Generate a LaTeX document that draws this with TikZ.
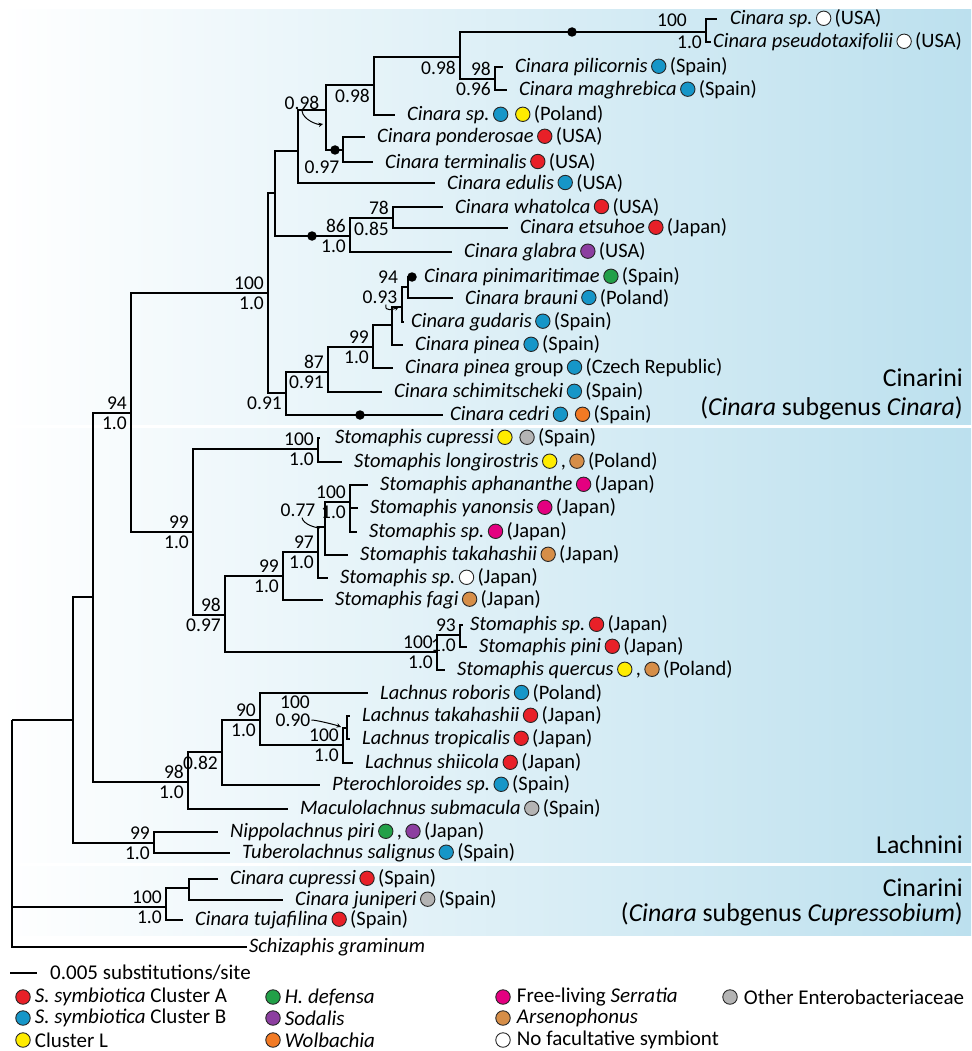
\documentclass[tikz,border=0pt]{standalone}
\usepackage{fontspec}
\setmainfont{Carlito}
\usetikzlibrary{positioning}

\definecolor{bgblue}{RGB}{188,224,238}
\definecolor{clA}{RGB}{232,32,40}
\definecolor{clB}{RGB}{22,150,200}
\definecolor{clL}{RGB}{255,236,0}
\definecolor{hdef}{RGB}{34,160,72}
\definecolor{sodal}{RGB}{140,62,160}
\definecolor{wolb}{RGB}{242,122,36}
\definecolor{serr}{RGB}{228,0,128}
\definecolor{arsen}{RGB}{214,142,72}
\definecolor{enter}{RGB}{180,180,180}

% coloured symbiont mark inside a tip label
\newcommand{\smark}[1]{\,\tikz[baseline=-0.32em]\draw[line width=0.9pt, draw=black!85, fill=#1] (0,0) circle (7.2pt);\,}

\begin{document}
\begin{tikzpicture}[x=1pt, y=-1pt,
    branch/.style={line width=2.3pt},
    tip/.style={anchor=west, inner sep=1pt, font=\fontsize{20.5}{22}\selectfont},
    sup/.style={inner sep=1pt, font=\fontsize{19.5}{21}\selectfont},
    up/.style={sup, anchor=south east, xshift=-3pt, yshift=2.5pt},
    dn/.style={sup, anchor=north east, xshift=-3pt, yshift=-2.5pt},
    clade/.style={anchor=east, inner sep=0pt, font=\fontsize{25.8}{28}\selectfont},
    leg/.style={anchor=west, inner sep=1pt, font=\fontsize{21}{23}\selectfont},
    legdot/.style={circle, draw=black!85, line width=0.9pt, minimum size=14.5pt, inner sep=0pt},
    nodedot/.style={circle, fill=black, inner sep=0pt, minimum size=9.5pt},
    hook/.style={-stealth, line width=1pt},
    node distance=11pt]

\useasboundingbox (0,0) rectangle (971,1051);

% background bands
\shade[left color=white, right color=bgblue] (0,10) rectangle (971,424);
\shade[left color=white, right color=bgblue] (0,428) rectangle (971,862);
\shade[left color=white, right color=bgblue] (0,866) rectangle (971,935);

% internal nodes
\coordinate (root) at (12,720);
\coordinate (n73) at (73,720);
\coordinate (n93) at (93,597);
\coordinate (n131) at (131,413);
\coordinate (nCin) at (268,293);
\coordinate (n275) at (275,193);
\coordinate (n298) at (298,151);
\coordinate (n326) at (326,110);
\coordinate (n374) at (374,85);
\coordinate (n460) at (460,57);
\coordinate (n706) at (706,32);
\coordinate (n495) at (495,79);
\coordinate (n343) at (343,150);
\coordinate (n350) at (350,236);
\coordinate (n393) at (393,218);
\coordinate (n286) at (286,393);
\coordinate (n328) at (328,372);
\coordinate (n373) at (373,347);
\coordinate (n392) at (392,325);
\coordinate (n402) at (402,307);
\coordinate (n408) at (408,287);
\coordinate (nSto) at (193,532);
\coordinate (n318a) at (318,449);
\coordinate (n225) at (225,615);
\coordinate (n283) at (283,576);
\coordinate (n318b) at (318,552);
\coordinate (n325) at (325,527);
\coordinate (n350s) at (350,502);
\coordinate (n437) at (437,652);
\coordinate (n460s) at (460,635);
\coordinate (n188) at (188,782);
\coordinate (n222) at (222,752);
\coordinate (n260) at (260,720);
\coordinate (n343l) at (343,745);
\coordinate (n347) at (347,728);
\coordinate (nLach2) at (154,843);
\coordinate (n166) at (166,907);
\coordinate (n189) at (189,888);

% tip ends
\coordinate (t01) at (717,19);
\coordinate (t02) at (711,42);
\coordinate (t03) at (503,67);
\coordinate (t04) at (507,90);
\coordinate (t05) at (395,115);
\coordinate (t06) at (365,137);
\coordinate (t07) at (373,162);
\coordinate (t08) at (435,183);
\coordinate (t09) at (443,207);
\coordinate (t10) at (508,228);
\coordinate (t11) at (452,252);
\coordinate (t12) at (412,277);
\coordinate (t13) at (453,298);
\coordinate (t14) at (404,322);
\coordinate (t15) at (403,345);
\coordinate (t16) at (393,368);
\coordinate (t17) at (382,392);
\coordinate (t18) at (443,415);
\coordinate (t19) at (320,438);
\coordinate (t20) at (342,462);
\coordinate (t21) at (368,485);
\coordinate (t22) at (358,508);
\coordinate (t23) at (357,532);
\coordinate (t24) at (348,555);
\coordinate (t25) at (328,578);
\coordinate (t26) at (323,600);
\coordinate (t27) at (463,625);
\coordinate (t28) at (467,647);
\coordinate (t29) at (445,670);
\coordinate (t30) at (368,693);
\coordinate (t31) at (350,716);
\coordinate (t32) at (350,739);
\coordinate (t33) at (353,763);
\coordinate (t34) at (320,785);
\coordinate (t35) at (288,809);
\coordinate (t36) at (218,832);
\coordinate (t37) at (230,853);
\coordinate (t38) at (218,879);
\coordinate (t39) at (283,900);
\coordinate (t40) at (183,920);
\coordinate (t41) at (247,947);

% branches
\draw[branch] (root) |- (n73);
\draw[branch] (root) |- (n166);
\draw[branch] (root) |- (t41);
\draw[branch] (n73) |- (n93);
\draw[branch] (n73) |- (nLach2);
\draw[branch] (n93) |- (n131);
\draw[branch] (n93) |- (n188);
\draw[branch] (n131) |- (nCin);
\draw[branch] (n131) |- (nSto);
\draw[branch] (nCin) |- (n275);
\draw[branch] (nCin) |- (n286);
\draw[branch] (n275) |- (n298);
\draw[branch] (n275) |- (n350);
\draw[branch] (n298) |- (n326);
\draw[branch] (n298) |- (t08);
\draw[branch] (n326) |- (n374);
\draw[branch] (n326) |- (n343);
\draw[branch] (n374) |- (n460);
\draw[branch] (n374) |- (t05);
\draw[branch] (n460) |- (n706);
\draw[branch] (n460) |- (n495);
\draw[branch] (n706) |- (t01);
\draw[branch] (n706) |- (t02);
\draw[branch] (n495) |- (t03);
\draw[branch] (n495) |- (t04);
\draw[branch] (n343) |- (t06);
\draw[branch] (n343) |- (t07);
\draw[branch] (n350) |- (n393);
\draw[branch] (n350) |- (t11);
\draw[branch] (n393) |- (t09);
\draw[branch] (n393) |- (t10);
\draw[branch] (n286) |- (n328);
\draw[branch] (n286) |- (t18);
\draw[branch] (n328) |- (n373);
\draw[branch] (n328) |- (t17);
\draw[branch] (n373) |- (n392);
\draw[branch] (n373) |- (t16);
\draw[branch] (n392) |- (n402);
\draw[branch] (n392) |- (t15);
\draw[branch] (n402) |- (n408);
\draw[branch] (n402) |- (t14);
\draw[branch] (n408) |- (t12);
\draw[branch] (n408) |- (t13);
\draw[branch] (nSto) |- (n318a);
\draw[branch] (nSto) |- (n225);
\draw[branch] (n318a) |- (t19);
\draw[branch] (n318a) |- (t20);
\draw[branch] (n225) |- (n283);
\draw[branch] (n225) |- (n437);
\draw[branch] (n283) |- (n318b);
\draw[branch] (n283) |- (t26);
\draw[branch] (n318b) |- (n325);
\draw[branch] (n318b) |- (t25);
\draw[branch] (n325) |- (n350s);
\draw[branch] (n325) |- (t24);
\draw[branch] (n350s) |- (t21);
\draw[branch] (n350s) |- (t22);
\draw[branch] (n350s) |- (t23);
\draw[branch] (n437) |- (n460s);
\draw[branch] (n437) |- (t29);
\draw[branch] (n460s) |- (t27);
\draw[branch] (n460s) |- (t28);
\draw[branch] (n188) |- (n222);
\draw[branch] (n188) |- (t35);
\draw[branch] (n222) |- (n260);
\draw[branch] (n222) |- (t34);
\draw[branch] (n260) |- (t30);
\draw[branch] (n260) |- (n343l);
\draw[branch] (n343l) |- (n347);
\draw[branch] (n343l) |- (t33);
\draw[branch] (n347) |- (t31);
\draw[branch] (n347) |- (t32);
\draw[branch] (nLach2) |- (t36);
\draw[branch] (nLach2) |- (t37);
\draw[branch] (n166) |- (n189);
\draw[branch] (n166) |- (t40);
\draw[branch] (n189) |- (t38);
\draw[branch] (n189) |- (t39);

% dots on branches
\node[nodedot] (d1) at (572,32) {};
\node[nodedot] (d2) at (335,150) {};
\node[nodedot] (d3) at (312,236) {};
\node[nodedot] (d4) at (t12) {};
\node[nodedot] (d5) at (360,415) {};

% tip labels
\node[tip, right=12pt of t01] (l01) {\textit{Cinara sp.}\smark{white}(USA)};
\node[tip, right=1pt of t02] (l02) {\textit{Cinara pseudotaxifolii}\smark{white}(USA)};
\node[tip, right=of t03] (l03) {\textit{Cinara pilicornis}\smark{clB}(Spain)};
\node[tip, right=of t04] (l04) {\textit{Cinara maghrebica}\smark{clB}(Spain)};
\node[tip, right=of t05] (l05) {\textit{Cinara sp.}\smark{clB}\smark{clL}(Poland)};
\node[tip, right=of t06] (l06) {\textit{Cinara ponderosae}\smark{clA}(USA)};
\node[tip, right=of t07] (l07) {\textit{Cinara terminalis}\smark{clA}(USA)};
\node[tip, right=of t08] (l08) {\textit{Cinara edulis}\smark{clB}(USA)};
\node[tip, right=of t09] (l09) {\textit{Cinara whatolca}\smark{clA}(USA)};
\node[tip, right=of t10] (l10) {\textit{Cinara etsuhoe}\smark{clA}(Japan)};
\node[tip, right=of t11] (l11) {\textit{Cinara glabra}\smark{sodal}(USA)};
\node[tip, right=of t12] (l12) {\textit{Cinara pinimaritimae}\smark{hdef}(Spain)};
\node[tip, right=of t13] (l13) {\textit{Cinara brauni}\smark{clB}(Poland)};
\node[tip, right=6pt of t14] (l14) {\textit{Cinara gudaris}\smark{clB}(Spain)};
\node[tip, right=of t15] (l15) {\textit{Cinara pinea}\smark{clB}(Spain)};
\node[tip, right=of t16] (l16) {\textit{Cinara pinea} group\smark{clB}(Czech Republic)};
\node[tip, right=of t17] (l17) {\textit{Cinara schimitscheki}\smark{clB}(Spain)};
\node[tip, right=6pt of t18] (l18) {\textit{Cinara cedri}\smark{clB}\smark{wolb}(Spain)};
\node[tip, right=14pt of t19] (l19) {\textit{Stomaphis cupressi}\smark{clL}\smark{enter}(Spain)};
\node[tip, right=of t20] (l20) {\textit{Stomaphis longirostris}\smark{clL},\smark{arsen}(Poland)};
\node[tip, right=of t21] (l21) {\textit{Stomaphis aphananthe}\smark{serr}(Japan)};
\node[tip, right=of t22] (l22) {\textit{Stomaphis yanonsis}\smark{serr}(Japan)};
\node[tip, right=of t23] (l23) {\textit{Stomaphis sp.}\smark{serr}(Japan)};
\node[tip, right=of t24] (l24) {\textit{Stomaphis takahashii}\smark{arsen}(Japan)};
\node[tip, right=of t25] (l25) {\textit{Stomaphis sp.}\smark{white}(Japan)};
\node[tip, right=of t26] (l26) {\textit{Stomaphis fagi}\smark{arsen}(Japan)};
\node[tip, right=6pt of t27] (l27) {\textit{Stomaphis sp.}\smark{clA}(Japan)};
\node[tip, right=of t28] (l28) {\textit{Stomaphis pini}\smark{clA}(Japan)};
\node[tip, right=of t29] (l29) {\textit{Stomaphis quercus}\smark{clL},\smark{arsen}(Poland)};
\node[tip, right=of t30] (l30) {\textit{Lachnus roboris}\smark{clB}(Poland)};
\node[tip, right=of t31] (l31) {\textit{Lachnus takahashii}\smark{clA}(Japan)};
\node[tip, right=of t32] (l32) {\textit{Lachnus tropicalis}\smark{clA}(Japan)};
\node[tip, right=of t33] (l33) {\textit{Lachnus shiicola}\smark{clA}(Japan)};
\node[tip, right=of t34] (l34) {\textit{Pterochloroides sp.}\smark{clB}(Spain)};
\node[tip, right=of t35] (l35) {\textit{Maculolachnus submacula}\smark{enter}(Spain)};
\node[tip, right=of t36] (l36) {\textit{Nippolachnus piri}\smark{hdef},\smark{sodal}(Japan)};
\node[tip, right=of t37] (l37) {\textit{Tuberolachnus salignus}\smark{clB}(Spain)};
\node[tip, right=of t38] (l38) {\textit{Cinara cupressi}\smark{clA}(Spain)};
\node[tip, right=of t39] (l39) {\textit{Cinara juniperi}\smark{enter}(Spain)};
\node[tip, right=of t40] (l40) {\textit{Cinara tujafilina}\smark{clA}(Spain)};
\node[tip, right=1pt of t41] (l41) {\textit{Schizaphis graminum}};

% support values
\node[sup] (u706) at (672,20) {100};
\node[dn] (b706) at (n706) {1.0};
\node[dn] (b460) at (n460) {0.98};
\node[up] (u495) at (n495) {98};
\node[dn] (b495) at (n495) {0.96};
\node[dn] (b374) at (n374) {0.98};
\node[sup] (s326) at (302,103) {0.98};
\draw[hook] (s326.south) .. controls +(1,9) and +(-5,1) .. ([xshift=-3pt,yshift=-14pt]n326);
\node[sup] (b343) at (322,167) {0.97};
\node[up] (u350) at (n350) {86};
\node[dn] (b350) at (n350) {1.0};
\node[up] (u393) at (n393) {78};
\node[dn] (b393) at (n393) {0.85};
\node[up] (uCin) at (nCin) {100};
\node[dn] (bCin) at (nCin) {1.0};
\node[up] (u328) at (n328) {87};
\node[dn] (b328) at (n328) {0.91};
\node[up] (u373) at (n373) {99};
\node[dn] (b373) at (n373) {1.0};
\node[dn] (b286) at (n286) {0.91};
\node[sup] (u408) at (388,277) {94};
\node[sup] (s402) at (380,297) {0.93};
\draw[hook] ([xshift=6pt]s402.south) .. controls +(-2,8) and +(-5,2) .. ([xshift=-3pt]n402);
\node[up] (u131) at (n131) {94};
\node[dn] (b131) at (n131) {1.0};
\node[up] (uSto) at (nSto) {99};
\node[dn] (bSto) at (nSto) {1.0};
\node[up] (u318a) at (n318a) {100};
\node[dn] (b318a) at (n318a) {1.0};
\node[up] (u225) at (n225) {98};
\node[dn] (b225) at (n225) {0.97};
\node[up] (u283) at (n283) {99};
\node[dn] (b283) at (n283) {1.0};
\node[up] (u318b) at (n318b) {97};
\node[dn] (b318b) at (n318b) {1.0};
\node[sup] (s325) at (298,510) {0.77};
\draw[hook] ([xshift=4pt]s325.south) .. controls +(1,7) and +(-4,1) .. ([xshift=-4pt]n325);
\node[up] (u350s) at (n350s) {100};
\node[dn] (b350s) at (n350s) {1.0};
\node[up] (u437) at (n437) {100};
\node[dn] (b437) at (n437) {1.0};
\node[up] (u460s) at (n460s) {93};
\node[dn] (b460s) at (n460s) {1.0};
\node[up] (u188) at (n188) {98};
\node[dn] (b188) at (n188) {1.0};
\node[dn] (b222) at (n222) {0.82};
\node[up] (u260) at (n260) {90};
\node[dn] (b260) at (n260) {1.0};
\node[up] (u343l) at (n343l) {100};
\node[dn] (b343l) at (n343l) {1.0};
\node[sup] (u347) at (295,702) {100};
\node[sup] (s347) at (293,720) {0.90};
\draw[hook] (s347.east) .. controls +(5,0) and +(-5,-2) .. ([xshift=-6pt,yshift=1pt]n347);
\node[up] (uLach2) at (nLach2) {99};
\node[dn] (bLach2) at (nLach2) {1.0};
\node[up] (u166) at (n166) {100};
\node[dn] (b166) at (n166) {1.0};

% clade names
\node[clade] (cl1) at (963,378) {Cinarini};
\node[clade] (cl2) at (963,408) {(\textit{Cinara} subgenus \textit{Cinara})};
\node[clade] (cl3) at (963,845) {Lachnini};
\node[clade] (cl4) at (963,888) {Cinarini};
\node[clade] (cl5) at (963,914) {(\textit{Cinara} subgenus \textit{Cupressobium})};

% scale bar
\coordinate (sb1) at (10,973);
\coordinate (sb2) at (37,973);
\draw[line width=1.6pt] (sb1) -- (sb2);
\node[leg, right=12pt of sb2] (sbl) {0.005 substitutions/site};

% legend
\node[legdot, fill=clA] (kA) at (23,997) {};
\node[leg, right=3pt of kA] (kAt) {\textit{S. symbiotica} Cluster A};
\node[legdot, fill=clB] (kB) at (23,1018) {};
\node[leg, right=3pt of kB] (kBt) {\textit{S. symbiotica} Cluster B};
\node[legdot, fill=clL] (kL) at (23,1040) {};
\node[leg, right=3pt of kL] (kLt) {Cluster L};
\node[legdot, fill=hdef] (kH) at (273,997) {};
\node[leg, right=3pt of kH] (kHt) {\textit{H. defensa}};
\node[legdot, fill=sodal] (kS) at (273,1018) {};
\node[leg, right=3pt of kS] (kSt) {\textit{Sodalis}};
\node[legdot, fill=wolb] (kW) at (273,1040) {};
\node[leg, right=3pt of kW] (kWt) {\textit{Wolbachia}};
\node[legdot, fill=serr] (kF) at (503,997) {};
\node[leg, right=5pt of kF] (kFt) {Free-living \textit{Serratia}};
\node[legdot, fill=arsen] (kR) at (503,1018) {};
\node[leg, right=5pt of kR] (kRt) {\textit{Arsenophonus}};
\node[legdot, fill=white] (kN) at (503,1040) {};
\node[leg, right=5pt of kN] (kNt) {No facultative symbiont};
\node[legdot, fill=enter] (kO) at (730,997) {};
\node[leg, right=5pt of kO] (kOt) {Other Enterobacteriaceae};
\end{tikzpicture}
\end{document}
